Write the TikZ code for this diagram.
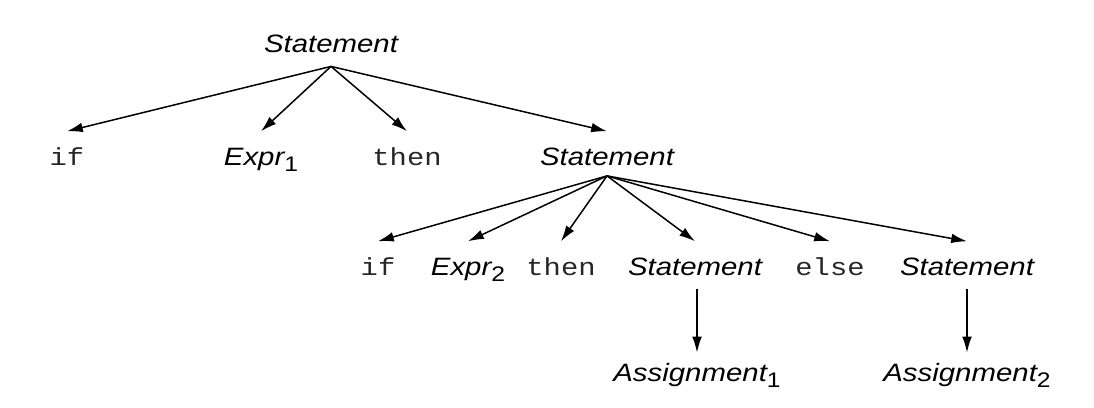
\documentclass[tikz,border=0pt]{standalone}
\usepackage{fontspec}
\setmainfont{Liberation Sans}[FakeStretch=1.17]
\setmonofont{Liberation Mono}[FakeStretch=1.17]
\usetikzlibrary{arrows.meta}
\newcommand\sbs[1]{\raisebox{-0.5ex}{\upshape\fontsize{12}{12}\selectfont #1}}
\tikzset{
  lab/.style={anchor=base, font=\fontsize{14.3}{16}\selectfont\itshape,
    text height=14pt, text depth=3pt, inner xsep=1pt, inner ysep=5pt},
  kw/.style={lab, font=\fontsize{14}{16}\selectfont\ttfamily, text=black!85},
  arr/.style={-{Latex[length=9pt,width=5.5pt]}, line width=0.85pt}
}
\begin{document}
\begin{tikzpicture}[x=0.02cm,y=-0.02cm]
\useasboundingbox (0,0) rectangle (1094,407);
% row 0
\node[lab] (root) at (331,52) {Statement};
% row 1
\node[kw]  (if1)   at (67,165)  {if};
\node[lab] (e1)    at (261,165) {Expr\sbs{1}};
\node[kw]  (then1) at (407,165) {then};
\node[lab] (st2)   at (607,165) {Statement};
% row 2
\node[kw]  (if2)   at (378,275) {if};
\node[lab] (e2)    at (468,275) {Expr\sbs{2}};
\node[kw]  (then2) at (561,275) {then};
\node[lab] (st3)   at (695,275) {Statement};
\node[kw]  (else)  at (830,275) {else};
\node[lab] (st4)   at (967,275) {Statement};
% row 3
\node[lab] (a1) at (697,381) {Assignment\sbs{1}};
\node[lab] (a2) at (967,381) {Assignment\sbs{2}};
% connectors
\foreach \c in {if1,e1,then1,st2}
  \draw[arr] (root.south) -- (\c.north);
\coordinate (o2) at ([yshift=2pt]st2.south);
\foreach \c in {if2,e2,then2,st3,else,st4}
  \draw[arr] (o2) -- (\c.north);
\draw[arr] (st3.south -| a1.north) -- ([yshift=-3pt]a1.north);
\draw[arr] (st4.south -| a2.north) -- ([yshift=-3pt]a2.north);
\end{tikzpicture}
\end{document}
